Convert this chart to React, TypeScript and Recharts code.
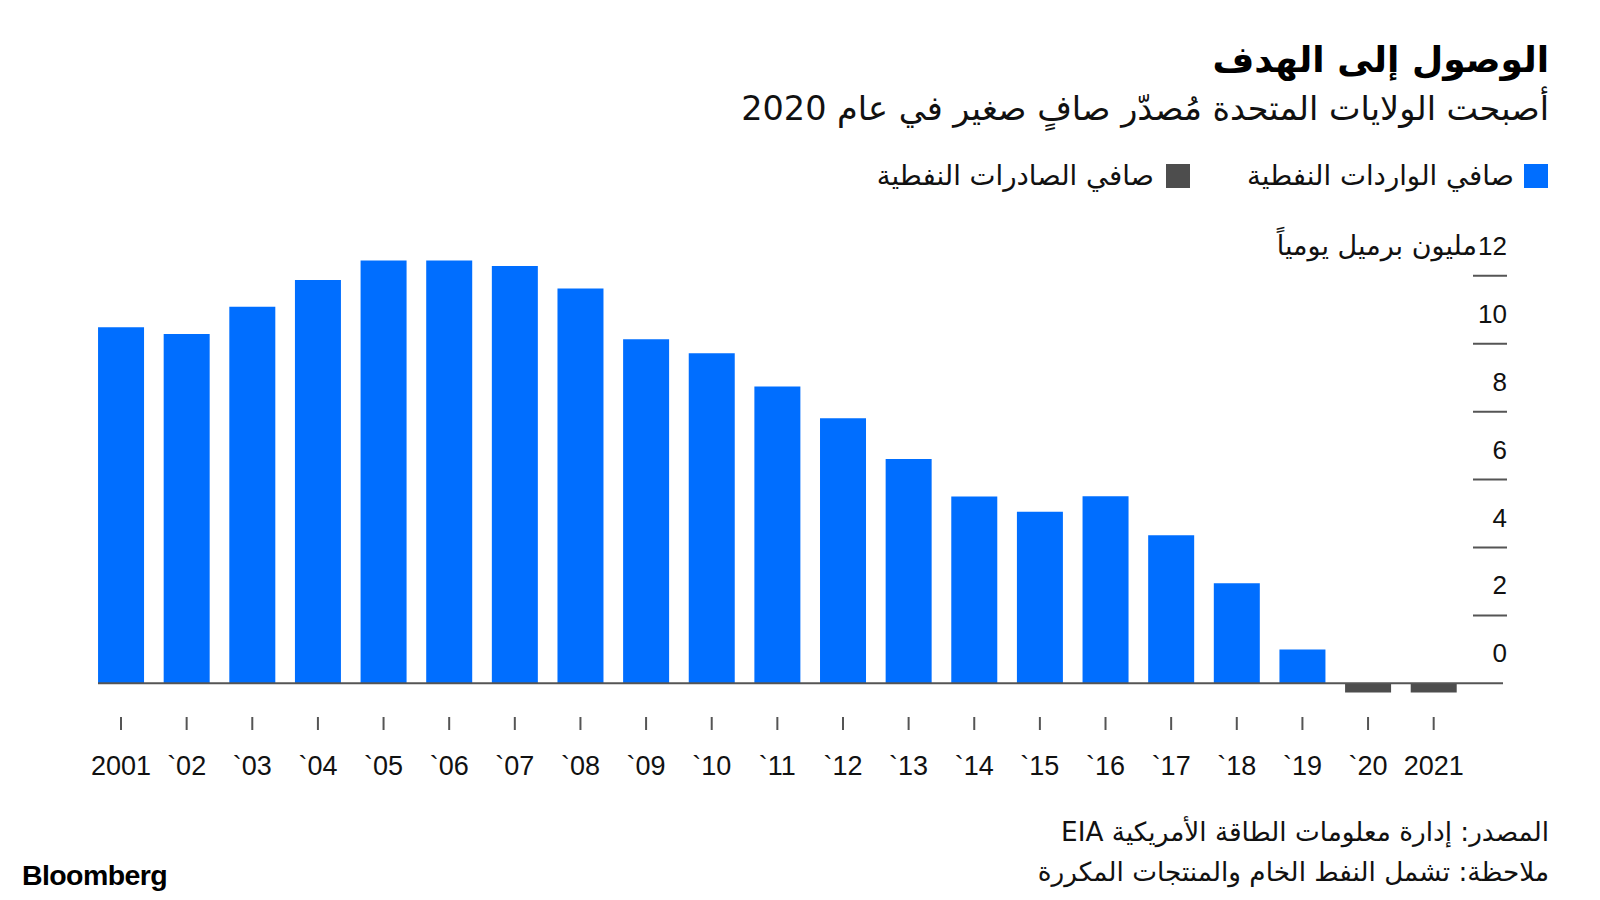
import { Bar, BarChart, ReferenceLine, XAxis, YAxis } from 'recharts'

const years = ['2001', '`02', '`03', '`04', '`05', '`06', '`07', '`08', '`09', '`10', '`11', '`12', '`13', '`14', '`15', '`16', '`17', '`18', '`19', '`20', '2021']
const netImports = [10.49, 10.29, 11.09, 11.88, 12.45, 12.45, 12.29, 11.63, 10.13, 9.72, 8.74, 7.81, 6.61, 5.5, 5.05, 5.51, 4.36, 2.95, 1.0, null, null]
const netExports = [null, null, null, null, null, null, null, null, null, null, null, null, null, null, null, null, null, null, null, -0.27, -0.27]
const yTicks = [0, 2, 4, 6, 8, 10, 12]

const data = years.map((year, i) => ({ year, imports: netImports[i], exports: netExports[i] }))

const BLUE = '#006eff'
const DARK = '#4d4d4d'
const AXIS = '#555'
const arabic = '"DejaVu Sans", sans-serif'
const latin = '"Liberation Sans", Arial, sans-serif'

function YTick({ y, payload }: any) {
  const v = payload.value
  return (
    <g>
      {v !== 0 && <line x1={1473} x2={1507} y1={y} y2={y} stroke={AXIS} strokeWidth={2} />}
      <text x={1507} y={y - 21} textAnchor="end" fontFamily={latin} fontSize={26} fill="#111">
        {v}
      </text>
      {v === 12 && (
        <text x={1477} y={y - 21} textAnchor="end" fontFamily={arabic} fontSize={27} fill="#111">
          مليون برميل يومياً
        </text>
      )}
    </g>
  )
}

function XTick({ x, payload }: any) {
  return (
    <g>
      <line x1={x} x2={x} y1={717} y2={730} stroke={AXIS} strokeWidth={2} />
      <text x={x} y={775} textAnchor="middle" fontFamily={latin} fontSize={27} fill="#111">
        {payload.value}
      </text>
    </g>
  )
}

// zero line runs from the first bar's edge to just under the right-hand tick marks
function Baseline(props: any) {
  return <line x1={98} x2={1503} y1={props.y1} y2={props.y2} stroke={AXIS} strokeWidth={2} />
}

export default function App() {
  return (
    <div style={{ position: 'absolute', left: 0, top: 0, width: 1600, height: 900, background: '#fff', overflow: 'hidden' }}>
      <div dir="rtl" style={{ position: 'absolute', right: 51, top: 39, fontFamily: arabic, fontWeight: 700, fontSize: 36, color: '#000', whiteSpace: 'nowrap' }}>
        الوصول إلى الهدف
      </div>
      <div dir="rtl" style={{ position: 'absolute', right: 51, top: 89, fontFamily: arabic, fontSize: 33.5, color: '#111', whiteSpace: 'nowrap' }}>
        أصبحت الولايات المتحدة مُصدّر صافٍ صغير في عام 2020
      </div>
      <div dir="rtl" style={{ position: 'absolute', right: 52, top: 159, display: 'flex', alignItems: 'center', fontFamily: arabic, fontSize: 27.6, color: '#111', whiteSpace: 'nowrap' }}>
        <span style={{ width: 24, height: 24, background: BLUE, display: 'inline-block', marginLeft: 10 }} />
        <span>صافي الواردات النفطية</span>
        <span style={{ width: 24, height: 24, background: DARK, display: 'inline-block', marginRight: 57, marginLeft: 12 }} />
        <span>صافي الصادرات النفطية</span>
      </div>

      <div style={{ position: 'absolute', left: 0, top: 0 }}>
        <BarChart width={1600} height={900} data={data} margin={{ top: 255.5, right: 93.5, left: 88.2, bottom: 109.5 }} barCategoryGap="15%">
          <XAxis dataKey="year" axisLine={false} tickLine={false} height={80} tick={<XTick />} interval={0} />
          <YAxis orientation="right" width={40} domain={[-0.8, 12.6]} ticks={yTicks} axisLine={false} tickLine={false} tick={<YTick />} interval={0} />
          <Bar dataKey="imports" stackId="a" fill={BLUE} isAnimationActive={false} />
          <Bar dataKey="exports" stackId="a" fill={DARK} isAnimationActive={false} />
          <ReferenceLine y={0} shape={Baseline} />
        </BarChart>
      </div>

      <div dir="rtl" style={{ position: 'absolute', right: 51, top: 812, fontFamily: arabic, fontSize: 26.3, lineHeight: '40px', color: '#111', whiteSpace: 'nowrap', textAlign: 'right' }}>
        <div>المصدر: إدارة معلومات الطاقة الأمريكية EIA</div>
        <div>ملاحظة: تشمل النفط الخام والمنتجات المكررة</div>
      </div>
      <div style={{ position: 'absolute', left: 22, top: 859, fontFamily: latin, fontWeight: 700, fontSize: 28.5, color: '#000', letterSpacing: -0.6 }}>
        Bloomberg
      </div>
    </div>
  )
}
